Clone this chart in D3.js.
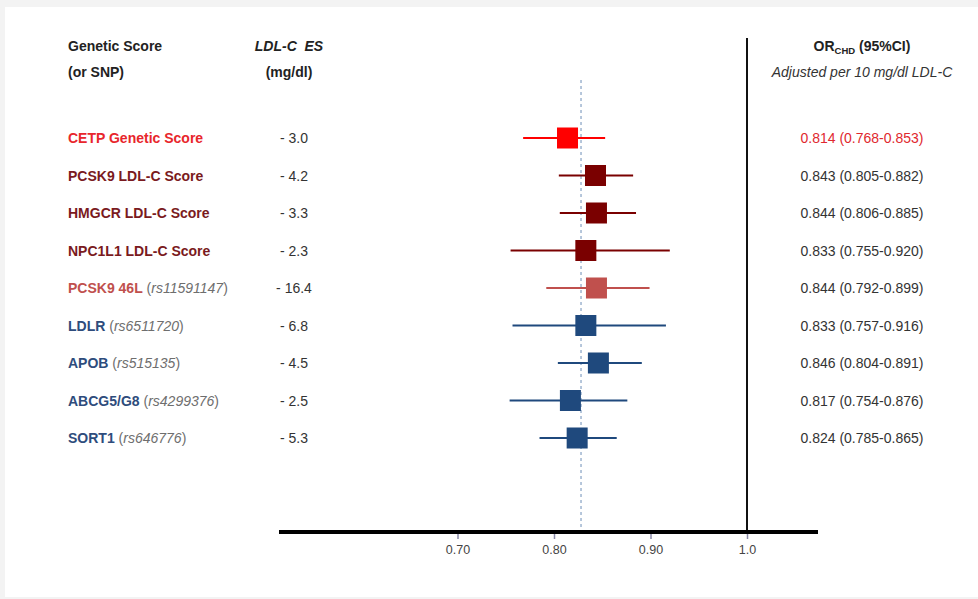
<!DOCTYPE html>
<html>
<head>
<meta charset="utf-8">
<script src="https://cdn.jsdelivr.net/npm/d3@7"></script>
<style>
  html, body { margin: 0; padding: 0; background: #f3f3f3; }
  svg { display: block; font-family: "Liberation Sans", Arial, sans-serif; }
</style>
</head>
<body>
<svg id="chart" width="978" height="599"></svg>
<script>
// Genetic scores / SNPs and their LDL-C effect sizes
const names = ["CETP Genetic Score", "PCSK9 LDL-C Score", "HMGCR LDL-C Score", "NPC1L1 LDL-C Score",
               "PCSK9 46L", "LDLR", "APOB", "ABCG5/G8", "SORT1"];
const snps = ["", "", "", "", "rs11591147", "rs6511720", "rs515135", "rs4299376", "rs646776"];
const ldlES = ["- 3.0", "- 4.2", "- 3.3", "- 2.3", "- 16.4", "- 6.8", "- 4.5", "- 2.5", "- 5.3"];
// Odds ratio for CHD per 10 mg/dl LDL-C with 95% CI
const orValues = [0.814, 0.843, 0.844, 0.833, 0.844, 0.833, 0.846, 0.817, 0.824];
const ciLower  = [0.768, 0.805, 0.806, 0.755, 0.792, 0.757, 0.804, 0.754, 0.785];
const ciUpper  = [0.853, 0.882, 0.885, 0.920, 0.899, 0.916, 0.891, 0.876, 0.865];
const groups   = ["cetp", "score", "score", "score", "pcsk9snp", "snp", "snp", "snp", "snp"];
const pooledOR = 0.828;
const tickValues = [0.70, 0.80, 0.90, 1.0];
const tickLabels = ["0.70", "0.80", "0.90", "1.0"];

const markColor = { cetp: "#ff0000", score: "#7a0000", pcsk9snp: "#c0504d", snp: "#1f497d" };
const textColor = { cetp: "#e8262c", score: "#7a1a20", pcsk9snp: "#c0504d", snp: "#2e4c7c" };

const svg = d3.select("#chart");
const fs = 14;

// page panel
svg.append("rect").attr("x", 5).attr("y", 7).attr("width", 973).attr("height", 590).attr("fill", "#ffffff");

const x = d3.scaleLinear().domain([0.70, 1.0]).range([457.5, 747]);
const y = d3.scalePoint().domain(d3.range(names.length)).range([138, 438]);
const axisY = 532;

// Column headers
const hdr = svg.append("g").attr("font-size", fs).attr("font-weight", "bold").attr("fill", "#222");
hdr.append("text").attr("x", 68).attr("y", 51).text("Genetic Score");
hdr.append("text").attr("x", 68).attr("y", 77).text("(or SNP)");
hdr.append("text").attr("x", 289).attr("y", 51).attr("text-anchor", "middle")
  .attr("font-style", "italic").attr("xml:space", "preserve").text("LDL-C  ES");
hdr.append("text").attr("x", 289).attr("y", 77).attr("text-anchor", "middle").text("(mg/dl)");
const orH = hdr.append("text").attr("x", 862).attr("y", 51).attr("text-anchor", "middle");
orH.append("tspan").text("OR");
orH.append("tspan").attr("font-size", 9.5).attr("dy", 3).text("CHD");
orH.append("tspan").attr("dy", -3).text(" (95%CI)");
svg.append("text").attr("x", 862).attr("y", 77).attr("text-anchor", "middle")
  .attr("font-size", fs).attr("font-style", "italic").attr("fill", "#333")
  .text("Adjusted per 10 mg/dl LDL-C");

// Reference line at OR = 1
svg.append("line").attr("x1", x(1.0)).attr("x2", x(1.0)).attr("y1", 38).attr("y2", axisY)
  .attr("stroke", "#111").attr("stroke-width", 2);

// Pooled estimate
svg.append("line").attr("x1", x(pooledOR)).attr("x2", x(pooledOR)).attr("y1", 80).attr("y2", axisY)
  .attr("stroke", "#9fb4d0").attr("stroke-width", 1.5).attr("stroke-dasharray", "3,3");

// X axis
const axis = d3.axisBottom(x).tickValues(tickValues).tickSize(7)
  .tickFormat((d, i) => tickLabels[i]);
const ax = svg.append("g").attr("transform", `translate(0,${axisY})`).call(axis);
ax.select(".domain").remove();
ax.selectAll(".tick line").attr("stroke", "#8a8aa8").attr("stroke-width", 1.5);
ax.selectAll(".tick text").attr("font-size", 12.5).attr("fill", "#444")
  .attr("font-family", "Liberation Sans, Arial, sans-serif").attr("dy", "0.95em");
svg.append("line").attr("x1", 279).attr("x2", 818).attr("y1", axisY).attr("y2", axisY)
  .attr("stroke", "#000").attr("stroke-width", 4);

// Rows
const rows = svg.append("g").selectAll("g").data(names).join("g");

rows.append("line")
  .attr("x1", (d, i) => x(ciLower[i])).attr("x2", (d, i) => x(ciUpper[i]))
  .attr("y1", (d, i) => y(i)).attr("y2", (d, i) => y(i))
  .attr("stroke", (d, i) => markColor[groups[i]]).attr("stroke-width", 2);

const sq = 21;
rows.append("rect")
  .attr("x", (d, i) => x(orValues[i]) - sq / 2).attr("y", (d, i) => y(i) - sq / 2)
  .attr("width", sq).attr("height", sq)
  .attr("fill", (d, i) => markColor[groups[i]]);

const lbl = rows.append("text").attr("x", 68).attr("y", (d, i) => y(i) + 5).attr("font-size", fs);
lbl.append("tspan").attr("font-weight", "bold").attr("fill", (d, i) => textColor[groups[i]]).text(d => d);
lbl.filter((d, i) => snps[i]).append("tspan").attr("fill", "#6e6e6e").text(" (");
lbl.filter((d, i) => snps[i]).append("tspan").attr("fill", "#6e6e6e").attr("font-style", "italic")
  .text(d => snps[names.indexOf(d)]);
lbl.filter((d, i) => snps[i]).append("tspan").attr("fill", "#6e6e6e").text(")");

rows.append("text").attr("x", 294).attr("y", (d, i) => y(i) + 5).attr("text-anchor", "middle")
  .attr("font-size", fs).attr("fill", "#333").text((d, i) => ldlES[i]);

rows.append("text").attr("x", 862).attr("y", (d, i) => y(i) + 5).attr("text-anchor", "middle")
  .attr("font-size", fs).attr("fill", (d, i) => groups[i] === "cetp" ? "#e0282e" : "#333")
  .text((d, i) => `${orValues[i].toFixed(3)} (${ciLower[i].toFixed(3)}-${ciUpper[i].toFixed(3)})`);
</script>
</body>
</html>
